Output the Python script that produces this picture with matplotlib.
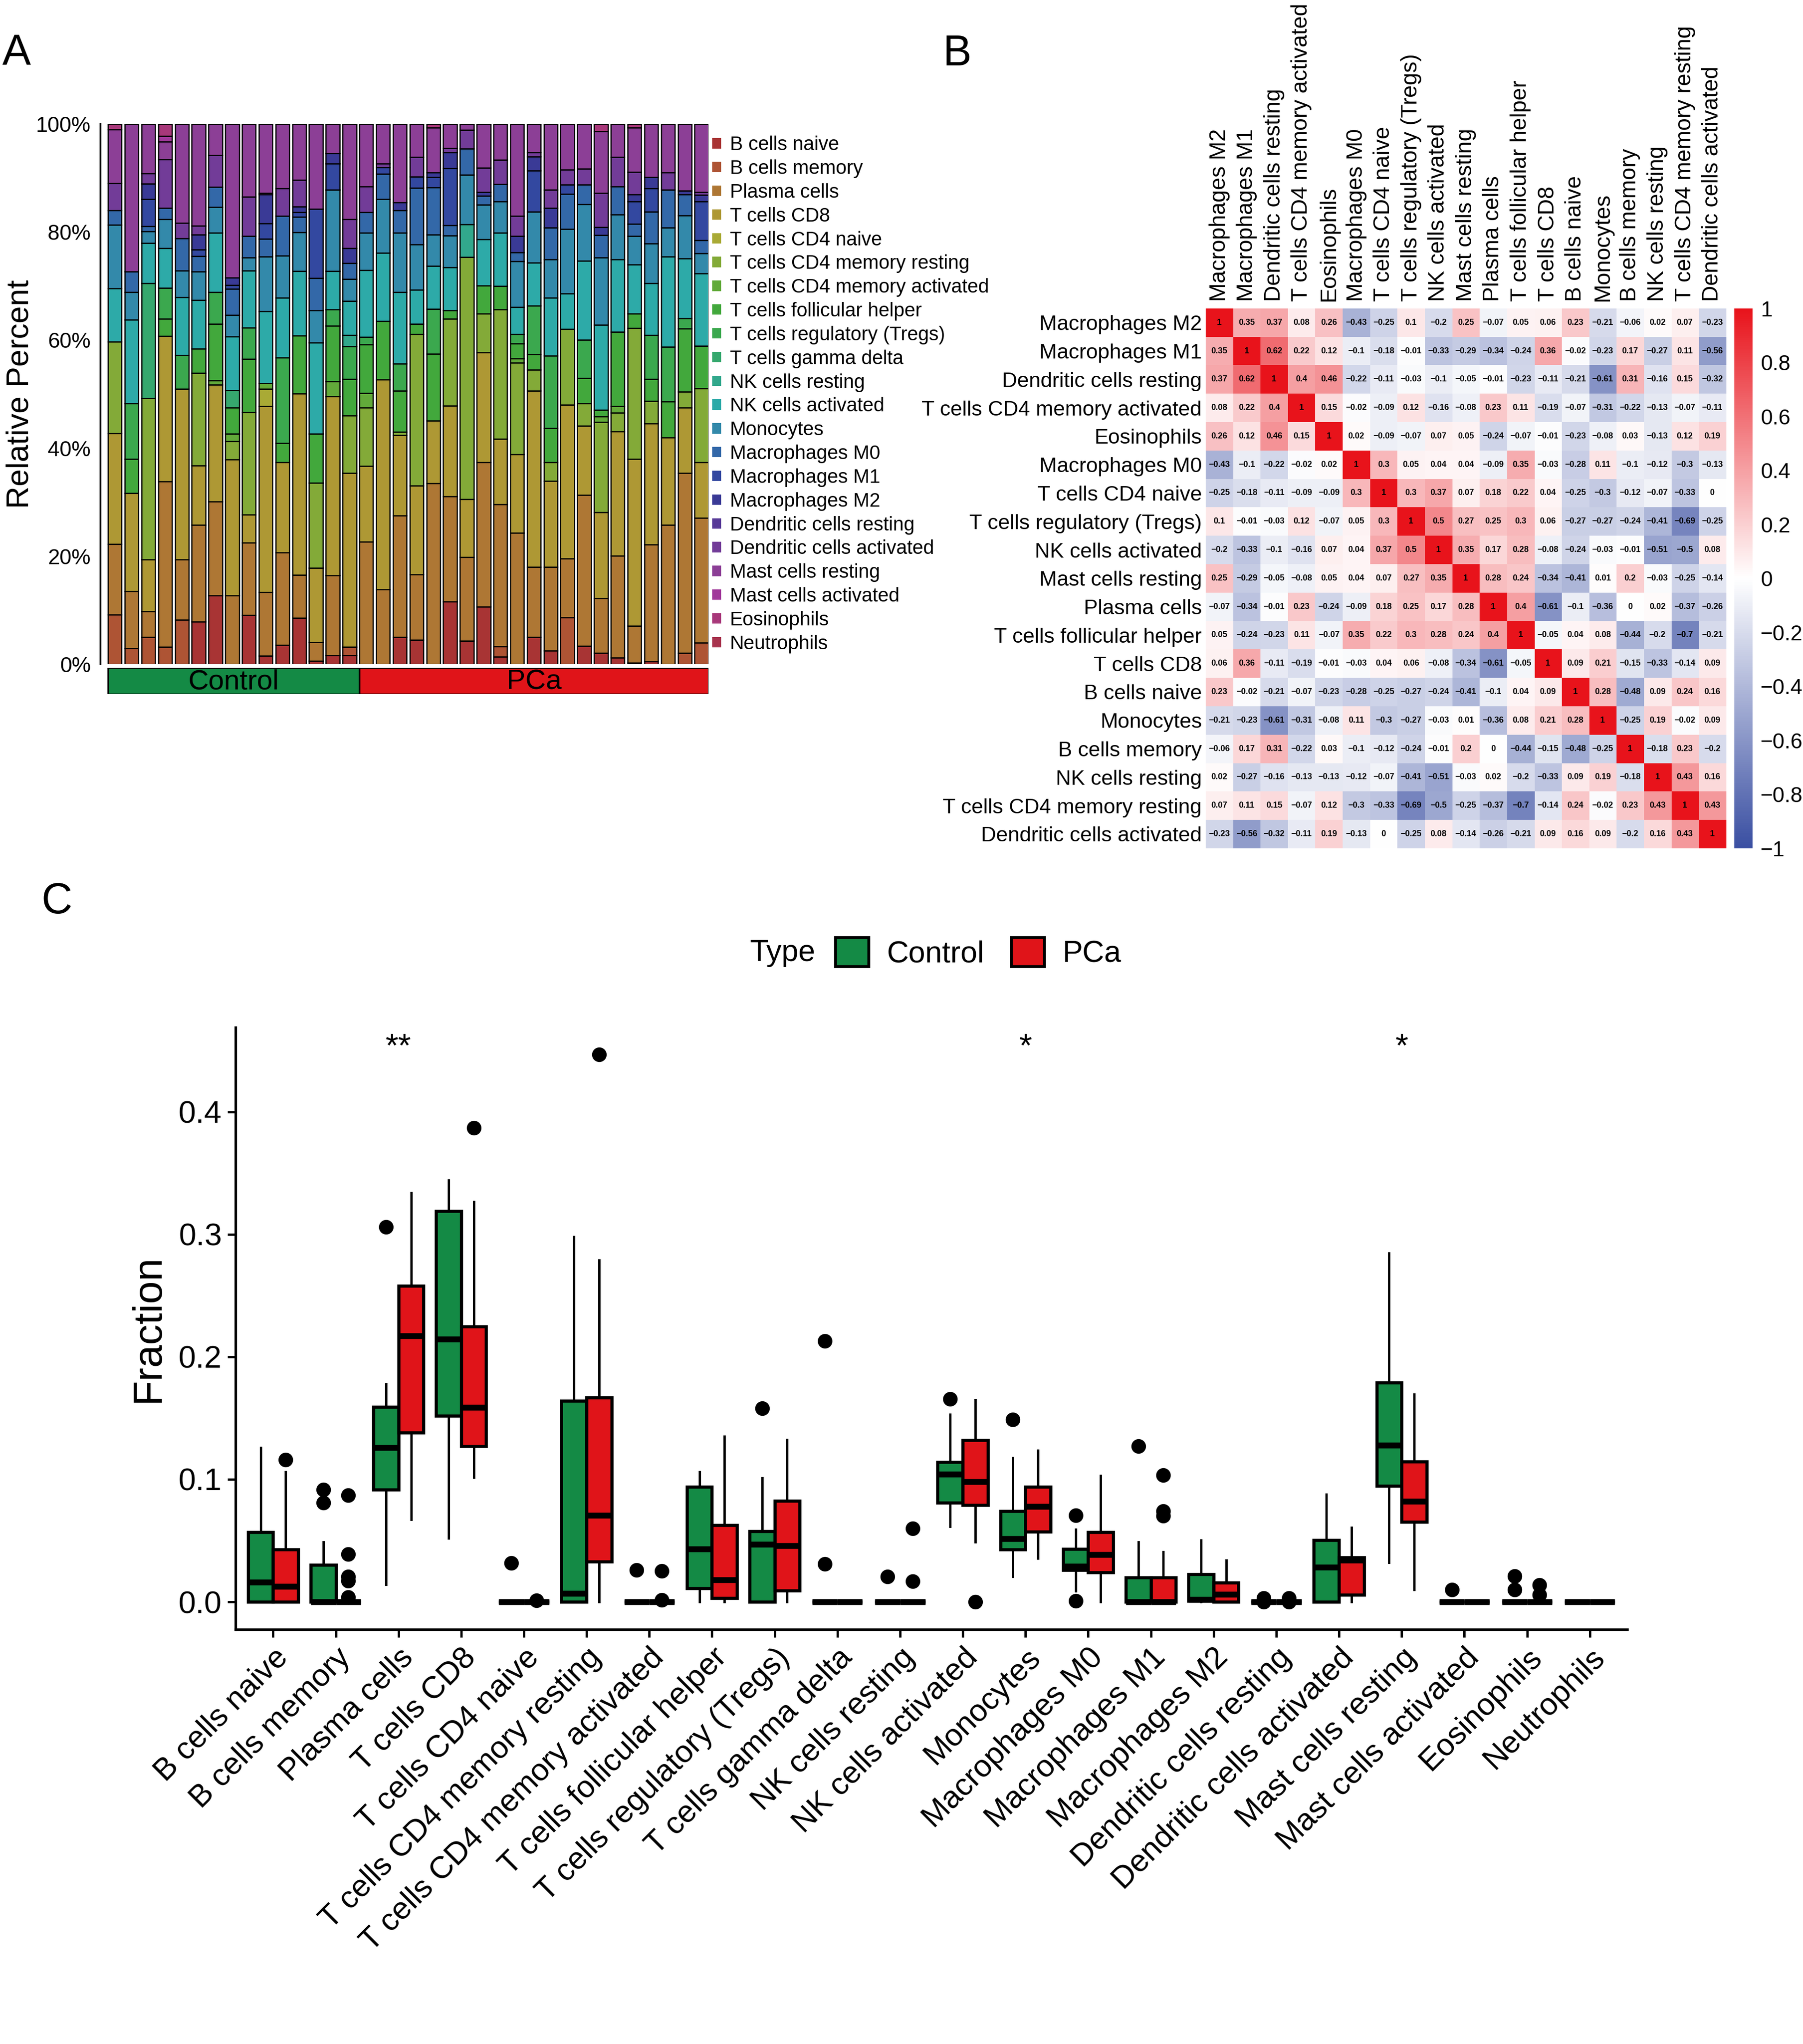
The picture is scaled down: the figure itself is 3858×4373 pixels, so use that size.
import matplotlib
matplotlib.use("Agg")
import matplotlib.pyplot as plt
from matplotlib import font_manager
from matplotlib.colors import LinearSegmentedColormap
from matplotlib.patches import Patch
import numpy as np

plt.rcParams['font.family'] = ['Liberation Sans', 'DejaVu Sans']

# panel A uses a narrow face in the original; fall back to a smaller regular face
installed = {f.name for f in font_manager.fontManager.ttflist}
if 'Liberation Sans Narrow' in installed:
    NARROW = ['Liberation Sans Narrow', 'Liberation Sans']
    leg_size, leg_space, tick_size = 12.0, 0.07, 12.5
else:
    NARROW = ['Liberation Sans', 'DejaVu Sans']
    leg_size, leg_space, tick_size = 10.0, 0.26, 11.0

# ---------------- Panel A: CIBERSORT fractions per sample (percent) ----------------
cell_types = ["B cells naive", "B cells memory", "Plasma cells", "T cells CD8", "T cells CD4 naive",
              "T cells CD4 memory resting", "T cells CD4 memory activated", "T cells follicular helper",
              "T cells regulatory (Tregs)", "T cells gamma delta", "NK cells resting", "NK cells activated",
              "Monocytes", "Macrophages M0", "Macrophages M1", "Macrophages M2", "Dendritic cells resting",
              "Dendritic cells activated", "Mast cells resting", "Mast cells activated", "Eosinophils",
              "Neutrophils"]
cell_colors = ['#A83434', '#AE5434', '#AE7734', '#AE9834', '#A9AA35', '#83AA38', '#62AA3A', '#42A83C',
               '#3BA84E', '#36A86E', '#32A88C', '#2DAAA8', '#3389AA', '#3368A8', '#3348A0', '#3A3A96',
               '#573A98', '#723C98', '#8C3F96', '#A0389A', '#A8387A', '#A8344E']
n_control = 15
n_pca = 21

b_naive = [0, 0, 0, 0, 0, 7.9, 12.7, 0, 9.1, 1.6, 3.6, 8.6, 0.6, 1.7, 1.7,
           0, 0, 5.0, 4.5, 0, 11.6, 4.3, 10.7, 1.4, 0, 5.0, 2.5, 0, 3.4, 2.1, 1.2, 0.3, 0.5, 0, 0, 0]
b_memory = [9.2, 3.0, 5.0, 3.2, 8.2, 0, 0, 0, 0, 0, 0, 0, 0, 0, 1.5,
            0, 0, 0, 0, 0, 0, 0, 0, 1.9, 0, 0, 0, 8.7, 0, 0, 0, 0, 0, 0, 2.1, 4.0]
plasma = [13.0, 10.5, 4.8, 30.6, 11.2, 17.9, 17.4, 12.7, 13.4, 11.7, 17.1, 7.9, 3.5, 14.8, 0,
          22.7, 13.8, 22.5, 12.1, 33.5, 19.5, 15.5, 26.7, 26.3, 24.3, 13.0, 15.5, 10.9, 27.9, 10.1, 18.9,
          6.8, 21.7, 25.8, 33.3, 23.1]
cd8 = [20.5, 18.2, 9.5, 26.9, 31.5, 11.0, 21.6, 25.2, 5.2, 34.4, 16.7, 33.6, 13.7, 33.1, 32.2,
       14.0, 38.8, 14.8, 16.5, 11.6, 16.8, 10.7, 20.4, 12.1, 14.6, 32.6, 15.9, 28.4, 12.8, 15.9, 22.9,
       30.9, 22.5, 16.1, 12.1, 10.3]
cd4_naive = [0, 0, 0, 0, 0, 0, 0, 0, 0, 3.2, 0, 0, 0, 0, 0,
             0, 0, 0, 0, 0, 0, 0, 0, 0, 0, 0, 0, 0, 0, 0, 0, 0, 0, 0, 0, 0]
cd4_mem_rest = [17.0, 0, 29.8, 0, 0, 17.1, 0, 3.4, 18.9, 0, 0, 0, 15.8, 0, 10.6,
                10.8, 0, 0.6, 28.0, 0, 16.1, 44.8, 7.2, 23.9, 16.9, 3.9, 3.4, 14.0, 4.2, 16.7, 3.5,
                24.2, 4.1, 0, 2.9, 13.6]
cd4_mem_act = [0, 0, 0, 0, 0, 0, 0.8, 1.4, 0, 1.0, 0, 0, 0, 2.8, 0,
               2.7, 0, 0, 0, 0, 0, 0, 0, 0, 0.8, 0, 0, 0, 0, 1.0, 1.2, 0, 0, 0, 0, 0]
tfh = [0, 6.3, 0, 3.2, 0, 4.5, 10.5, 4.8, 9.9, 0, 3.5, 10.7, 9.0, 10.3, 6.8,
       9.0, 10.8, 7.6, 1.9, 12.3, 1.5, 0, 5.2, 4.4, 2.8, 2.8, 6.3, 0, 4.6, 1.2, 13.7, 2.7, 4.1, 6.7,
       11.7, 7.9]
tregs = [0, 10.3, 0, 5.7, 6.3, 0, 5.8, 0, 5.8, 0, 15.8, 0, 0, 3.0, 6.0,
         1.4, 0, 5.0, 0, 8.3, 0, 0, 0, 0, 1.7, 9.0, 13.4, 0, 7.1, 0, 0, 0, 8.2, 10.1, 1.9, 0]
gamma_delta = [0, 0, 21.2, 0, 0, 0, 0, 3.2, 0, 0, 0, 0, 0, 0, 0,
               0, 0, 0, 0, 0, 0, 0, 0, 0, 0, 0, 0, 0, 0, 0, 0, 0, 0, 0, 0, 0]
nk_rest = [0, 0, 0, 0, 0, 0, 0, 0, 0, 0, 0, 0, 0, 0, 2.1,
           0, 0, 0, 0, 0, 0, 6.1, 0, 0, 0, 0, 0, 0, 0, 0, 0, 0, 0, 0, 0, 0]
nk_act = [9.8, 15.4, 7.4, 7.4, 10.7, 9.0, 11.0, 10.0, 10.5, 13.3, 11.1, 11.9, 16.9, 7.1, 6.3,
          12.4, 12.6, 13.2, 6.3, 8.0, 8.0, 0, 8.6, 9.8, 5.0, 8.0, 10.7, 6.6, 14.6, 15.7, 13.4, 9.0,
          9.6, 16.6, 11.1, 13.4]
monocytes = [11.8, 5.1, 2.1, 5.3, 4.9, 5.2, 4.8, 4.0, 2.4, 10.1, 7.8, 7.2, 6.0, 15.1, 4.1,
             6.9, 10.0, 11.0, 8.4, 5.8, 5.9, 9.1, 6.4, 5.8, 8.5, 9.4, 7.1, 11.9, 10.5, 12.5, 8.3, 5.3,
             7.4, 5.4, 7.9, 3.7]
mac_m0 = [2.7, 3.8, 1.0, 2.1, 6.0, 2.9, 3.7, 4.8, 4.0, 3.3, 7.3, 2.9, 5.9, 0, 2.9,
          3.8, 4.6, 4.1, 10.5, 8.7, 1.9, 4.9, 1.6, 3.2, 1.7, 0, 5.9, 6.5, 3.6, 4.1, 5.2, 2.3, 5.9, 7.0,
          3.9, 2.4]
mac_m1 = [0, 0, 5.0, 0, 0, 1.2, 0, 0.7, 0, 2.9, 0, 0.8, 12.8, 4.8, 0,
          0, 1.2, 0, 2.1, 1.9, 10.5, 0, 0, 0, 0, 7.6, 0, 1.7, 0, 0, 0, 4.1, 4.3, 0, 0, 7.2]
mac_m2 = [0, 0, 2.8, 0, 0, 2.8, 0, 1.4, 0, 5.3, 0, 1.1, 0, 1.9, 2.8,
          0, 0, 1.5, 0, 0.9, 3.0, 0, 0.7, 0, 3.0, 2.6, 3.6, 0, 0, 1.5, 0, 1.3, 2.1, 0, 0.7, 1.2]
dc_rest = [0] * 36
dc_act = [5.0, 0, 1.9, 9.0, 2.8, 1.6, 5.9, 0, 7.3, 0.3, 5.1, 4.9, 0, 0, 5.3,
          4.8, 0.7, 0, 3.6, 0, 0.8, 3.4, 4.5, 4.5, 3.7, 0.8, 3.4, 2.8, 3.0, 6.3, 5.4, 4.2, 0, 3.2, 0, 0.5]
mast_rest = [9.9, 27.4, 9.2, 3.3, 18.4, 18.9, 5.8, 28.5, 13.5, 12.8, 12.0, 10.4, 15.8, 5.5, 17.7,
             11.6, 7.4, 14.5, 6.2, 8.3, 4.5, 1.2, 8.2, 6.7, 17.1, 5.3, 12.2, 8.5, 8.3, 11.4, 6.2, 8.2,
             9.9, 9.0, 12.4, 12.7]
mast_act = [0, 0, 0, 1.0, 0, 0, 0, 0, 0, 0, 0, 0, 0, 0, 0,
            0, 0, 0, 0, 0, 0, 0, 0, 0, 0, 0, 0, 0, 0, 0, 0, 0, 0, 0, 0, 0]
eosinophils = [1.1, 0, 0, 2.3, 0, 0, 0, 0, 0, 0, 0, 0, 0, 0, 0,
               0, 0, 0, 0, 0.7, 0, 0, 0, 0, 0, 0, 0, 0, 0, 1.4, 0, 0.7, 0, 0, 0, 0]
neutrophils = [0] * 36

# ---------------- Panel B: correlation matrix ----------------
corr_labels = ["Macrophages M2", "Macrophages M1", "Dendritic cells resting", "T cells CD4 memory activated",
               "Eosinophils", "Macrophages M0", "T cells CD4 naive", "T cells regulatory (Tregs)",
               "NK cells activated", "Mast cells resting", "Plasma cells", "T cells follicular helper",
               "T cells CD8", "B cells naive", "Monocytes", "B cells memory", "NK cells resting",
               "T cells CD4 memory resting", "Dendritic cells activated"]
corr_values = [
    [1, 0.35, 0.37, 0.08, 0.26, -0.43, -0.25, 0.1, -0.2, 0.25, -0.07, 0.05, 0.06, 0.23, -0.21, -0.06, 0.02, 0.07, -0.23],
    [0.35, 1, 0.62, 0.22, 0.12, -0.1, -0.18, -0.01, -0.33, -0.29, -0.34, -0.24, 0.36, -0.02, -0.23, 0.17, -0.27, 0.11, -0.56],
    [0.37, 0.62, 1, 0.4, 0.46, -0.22, -0.11, -0.03, -0.1, -0.05, -0.01, -0.23, -0.11, -0.21, -0.61, 0.31, -0.16, 0.15, -0.32],
    [0.08, 0.22, 0.4, 1, 0.15, -0.02, -0.09, 0.12, -0.16, -0.08, 0.23, 0.11, -0.19, -0.07, -0.31, -0.22, -0.13, -0.07, -0.11],
    [0.26, 0.12, 0.46, 0.15, 1, 0.02, -0.09, -0.07, 0.07, 0.05, -0.24, -0.07, -0.01, -0.23, -0.08, 0.03, -0.13, 0.12, 0.19],
    [-0.43, -0.1, -0.22, -0.02, 0.02, 1, 0.3, 0.05, 0.04, 0.04, -0.09, 0.35, -0.03, -0.28, 0.11, -0.1, -0.12, -0.3, -0.13],
    [-0.25, -0.18, -0.11, -0.09, -0.09, 0.3, 1, 0.3, 0.37, 0.07, 0.18, 0.22, 0.04, -0.25, -0.3, -0.12, -0.07, -0.33, 0],
    [0.1, -0.01, -0.03, 0.12, -0.07, 0.05, 0.3, 1, 0.5, 0.27, 0.25, 0.3, 0.06, -0.27, -0.27, -0.24, -0.41, -0.69, -0.25],
    [-0.2, -0.33, -0.1, -0.16, 0.07, 0.04, 0.37, 0.5, 1, 0.35, 0.17, 0.28, -0.08, -0.24, -0.03, -0.01, -0.51, -0.5, 0.08],
    [0.25, -0.29, -0.05, -0.08, 0.05, 0.04, 0.07, 0.27, 0.35, 1, 0.28, 0.24, -0.34, -0.41, 0.01, 0.2, -0.03, -0.25, -0.14],
    [-0.07, -0.34, -0.01, 0.23, -0.24, -0.09, 0.18, 0.25, 0.17, 0.28, 1, 0.4, -0.61, -0.1, -0.36, 0, 0.02, -0.37, -0.26],
    [0.05, -0.24, -0.23, 0.11, -0.07, 0.35, 0.22, 0.3, 0.28, 0.24, 0.4, 1, -0.05, 0.04, 0.08, -0.44, -0.2, -0.7, -0.21],
    [0.06, 0.36, -0.11, -0.19, -0.01, -0.03, 0.04, 0.06, -0.08, -0.34, -0.61, -0.05, 1, 0.09, 0.21, -0.15, -0.33, -0.14, 0.09],
    [0.23, -0.02, -0.21, -0.07, -0.23, -0.28, -0.25, -0.27, -0.24, -0.41, -0.1, 0.04, 0.09, 1, 0.28, -0.48, 0.09, 0.24, 0.16],
    [-0.21, -0.23, -0.61, -0.31, -0.08, 0.11, -0.3, -0.27, -0.03, 0.01, -0.36, 0.08, 0.21, 0.28, 1, -0.25, 0.19, -0.02, 0.09],
    [-0.06, 0.17, 0.31, -0.22, 0.03, -0.1, -0.12, -0.24, -0.01, 0.2, 0, -0.44, -0.15, -0.48, -0.25, 1, -0.18, 0.23, -0.2],
    [0.02, -0.27, -0.16, -0.13, -0.13, -0.12, -0.07, -0.41, -0.51, -0.03, 0.02, -0.2, -0.33, 0.09, 0.19, -0.18, 1, 0.43, 0.16],
    [0.07, 0.11, 0.15, -0.07, 0.12, -0.3, -0.33, -0.69, -0.5, -0.25, -0.37, -0.7, -0.14, 0.24, -0.02, 0.23, 0.43, 1, 0.43],
    [-0.23, -0.56, -0.32, -0.11, 0.19, -0.13, 0, -0.25, 0.08, -0.14, -0.26, -0.21, 0.09, 0.16, 0.09, -0.2, 0.16, 0.43, 1],
]
cbar_ticks = [-1, -0.8, -0.6, -0.4, -0.2, 0, 0.2, 0.4, 0.6, 0.8, 1]

# ---------------- Panel C: box statistics (fraction) ----------------
ctrl_q1 = [0, 0, 0.0915, 0.152, 0, 0, 0, 0.011, 0, 0, 0, 0.081, 0.0426, 0.026, 0, 0.0006, 0, 0, 0.0946, 0, 0, 0]
ctrl_med = [0.016, 0, 0.126, 0.2145, 0, 0.007, 0, 0.043, 0.047, 0, 0, 0.104, 0.0514, 0.029, 0, 0.002, 0, 0.0284, 0.1278, 0, 0, 0]
ctrl_q3 = [0.057, 0.030, 0.159, 0.319, 0, 0.164, 0, 0.094, 0.0577, 0, 0, 0.114, 0.074, 0.043, 0.020, 0.0227, 0, 0.0505, 0.179, 0, 0, 0]
ctrl_lo = [0, 0, 0.014, 0.052, 0, 0, 0, 0, 0, 0, 0, 0.0615, 0.0205, 0.0088, 0, 0, 0, 0, 0.032, 0, 0, 0]
ctrl_hi = [0.126, 0.049, 0.178, 0.344, 0, 0.298, 0, 0.106, 0.101, 0, 0, 0.153, 0.1177, 0.059, 0.049, 0.0505, 0, 0.0877, 0.2845, 0, 0, 0]
ctrl_out = [[], [0.0915, 0.081], [0.306], [], [0.0315], [], [0.026], [], [0.158], [0.213, 0.031], [0.0205],
            [0.1656], [0.149], [0.0707, 0.0006], [0.127], [], [0.003, 0.0], [], [], [0.0101], [0.021, 0.010], []]
pca_q1 = [0, 0, 0.138, 0.127, 0, 0.033, 0, 0.003, 0.009, 0, 0, 0.079, 0.0574, 0.024, 0, 0, 0, 0.0057, 0.0653, 0, 0, 0]
pca_med = [0.0126, 0, 0.217, 0.1587, 0, 0.0707, 0, 0.018, 0.0457, 0, 0, 0.098, 0.078, 0.0385, 0, 0.0063, 0, 0.0338, 0.082, 0, 0, 0]
pca_q3 = [0.0426, 0, 0.258, 0.2246, 0, 0.1666, 0, 0.0625, 0.0826, 0, 0, 0.132, 0.094, 0.057, 0.020, 0.0158, 0, 0.0363, 0.1145, 0, 0, 0]
pca_lo = [0, 0, 0.067, 0.1016, 0, 0, 0, 0, 0, 0, 0, 0.049, 0.0356, 0, 0, 0, 0, 0, 0.0101, 0, 0, 0]
pca_hi = [0.106, 0, 0.334, 0.3265, 0, 0.279, 0, 0.135, 0.1325, 0, 0, 0.165, 0.1237, 0.103, 0.041, 0.034, 0, 0.0606, 0.1694, 0, 0, 0]
pca_out = [[0.116], [0.087, 0.039, 0.0205, 0.017, 0.004], [], [0.387], [0.001], [0.447], [0.025, 0.0015], [], [], [],
           [0.060, 0.0167], [0.0], [], [], [0.1035, 0.074, 0.0703], [], [0.003, 0.0], [], [], [], [0.0136, 0.0057], []]
signif = {"Plasma cells": "**", "Monocytes": "*", "Mast cells resting": "*"}

GREEN = '#148A45'
RED = '#E01419'

fig = plt.figure(figsize=(3858 / 300, 4373 / 300), dpi=300)

# ================= Panel A =================
stack = np.array([b_naive, b_memory, plasma, cd8, cd4_naive, cd4_mem_rest, cd4_mem_act, tfh, tregs,
                  gamma_delta, nk_rest, nk_act, monocytes, mac_m0, mac_m1, mac_m2, dc_rest, dc_act,
                  mast_rest, mast_act, eosinophils, neutrophils], dtype=float)
stack = stack / stack.sum(axis=0)
n_samples = stack.shape[1]
xs = np.arange(1, n_samples + 1)

axA = fig.add_axes([0.0557, 0.675, 0.3372, 0.2645])
bottom = np.zeros(n_samples)
for i, name in enumerate(cell_types):
    axA.bar(xs, stack[i], bottom=bottom, width=0.82, color=cell_colors[i], edgecolor='black',
            linewidth=0.6, label=name)
    bottom += stack[i]
axA.set_xlim(0.14, n_samples + 0.41)
axA.set_ylim(0, 1)
for side in ['top', 'right', 'bottom']:
    axA.spines[side].set_visible(False)
axA.spines['left'].set_linewidth(0.9)
axA.set_xticks([])
axA.set_yticks([0, 0.2, 0.4, 0.6, 0.8, 1.0])
axA.set_yticklabels(["0%", "20%", "40%", "60%", "80%", "100%"], family=NARROW, fontsize=tick_size)
axA.tick_params(axis='y', length=0, pad=5)
axA.set_ylabel("Relative Percent", fontsize=16)
axA.yaxis.set_label_coords(-0.108, 0.5)
leg = axA.legend(loc='upper left', bbox_to_anchor=(1.0, 0.985), frameon=False,
                 prop={'family': NARROW, 'size': leg_size},
                 handlelength=0.45, handleheight=0.45, handletextpad=0.45, labelspacing=leg_space, borderpad=0,
                 borderaxespad=0.2)
for h in leg.legend_handles:
    h.set_edgecolor('none')

# group bar under panel A
axG = fig.add_axes([0.0557, 0.6605, 0.3372, 0.0128], sharex=axA)
groups = [("Control", n_control, GREEN), ("PCa", n_pca, RED)]
start = 0.59
for k, (gname, cnt, col) in enumerate(groups):
    width = cnt if k == 0 else cnt - 0.18
    axG.barh(0.5, width, left=start, height=1, color=col, edgecolor='black', linewidth=0.8)
    axG.text(start + width / 2, 0.45, gname, ha='center', va='center', fontsize=14.5)
    start += width
axG.set_ylim(0, 1)
axG.axis('off')

# ================= Panel B =================
cmap = LinearSegmentedColormap.from_list('bwr_corr', ['#3A4FA2', '#FFFFFF', '#E8131B'])
corr = np.array(corr_values)
axB = fig.add_axes([0.6687, 0.5850, 0.2885, 0.2641])
im = axB.imshow(corr, cmap=cmap, vmin=-1, vmax=1, aspect='auto', interpolation='nearest')
for r in range(corr.shape[0]):
    for c in range(corr.shape[1]):
        txt = f"{corr[r, c]:g}".replace('-', '\u2212')
        axB.text(c, r, txt, ha='center', va='center', fontsize=4.3, fontweight='bold')
axB.set_xticks(range(len(corr_labels)))
axB.set_xticklabels(corr_labels, rotation=90, fontsize=11.5)
axB.set_yticks(range(len(corr_labels)))
axB.set_yticklabels(corr_labels, fontsize=10.8)
axB.xaxis.tick_top()
axB.tick_params(axis='y', length=0, pad=2)
axB.tick_params(axis='x', length=0, pad=3.5)
for s in axB.spines.values():
    s.set_visible(False)

cax = fig.add_axes([0.9620, 0.5850, 0.0101, 0.2641])
cb = fig.colorbar(im, cax=cax, ticks=cbar_ticks)
cb.ax.set_yticklabels([f"{t:g}".replace('-', '\u2212') for t in cbar_ticks], fontsize=11)
cb.ax.tick_params(length=0, pad=4)
cb.outline.set_visible(False)

# ================= Panel C =================
axC = fig.add_axes([0.1306, 0.2029, 0.7720, 0.2945])
cats = np.arange(1, len(cell_types) + 1)


def make_stats(q1, med, q3, lo, hi, out):
    return [dict(q1=a, med=b, q3=c, whislo=d, whishi=e, fliers=f)
            for a, b, c, d, e, f in zip(q1, med, q3, lo, hi, out)]


box_kw = dict(widths=0.4, patch_artist=True, showcaps=False,
              medianprops=dict(color='black', linewidth=3.0, solid_capstyle='butt'),
              whiskerprops=dict(color='black', linewidth=1.2),
              flierprops=dict(marker='o', markerfacecolor='black', markeredgecolor='black', markersize=6.5),
              boxprops=dict(edgecolor='black', linewidth=1.6))
for stats, offset, col in [(make_stats(ctrl_q1, ctrl_med, ctrl_q3, ctrl_lo, ctrl_hi, ctrl_out), -0.2, GREEN),
                           (make_stats(pca_q1, pca_med, pca_q3, pca_lo, pca_hi, pca_out), 0.2, RED)]:
    bp = axC.bxp(stats, positions=cats + offset, **box_kw)
    for patch in bp['boxes']:
        patch.set_facecolor(col)

for name, mark in signif.items():
    axC.text(cell_types.index(name) + 1, 0.452, mark, ha='center', va='center', fontsize=17)

axC.set_xlim(0.4, len(cell_types) + 0.6)
axC.set_ylim(-0.0224, 0.469)
axC.set_xticks(cats)
axC.set_xticklabels(cell_types, rotation=45, ha='right', rotation_mode='anchor', fontsize=16)
axC.set_yticks([0, 0.1, 0.2, 0.3, 0.4])
axC.set_yticklabels(["0.0", "0.1", "0.2", "0.3", "0.4"], fontsize=16)
axC.tick_params(length=4, width=1.2, pad=3)
axC.spines['top'].set_visible(False)
axC.spines['right'].set_visible(False)
axC.spines['left'].set_linewidth(1.3)
axC.spines['bottom'].set_linewidth(1.3)
axC.set_ylabel("Fraction", fontsize=21)
axC.yaxis.set_label_coords(-0.049, 0.5)

handles = [Patch(facecolor=GREEN, edgecolor='black', linewidth=1.5),
           Patch(facecolor=RED, edgecolor='black', linewidth=1.5)]
fig.text(0.416, 0.5338, "Type", fontsize=15.5, ha='left', va='center')
fig.legend(handles, ["Control", "PCa"], loc='center left', bbox_to_anchor=(0.455, 0.5338), ncol=2,
           frameon=False, fontsize=15.5, handlelength=1.1, handleheight=1.1, handletextpad=0.6,
           columnspacing=0.9, borderpad=0)

# panel letters
fig.text(0.0013, 0.9735, "A", fontsize=22, ha='left', va='center')
fig.text(0.523, 0.9735, "B", fontsize=22, ha='left', va='center')
fig.text(0.023, 0.5586, "C", fontsize=22, ha='left', va='center')

fig.savefig("out.png", dpi=300)
